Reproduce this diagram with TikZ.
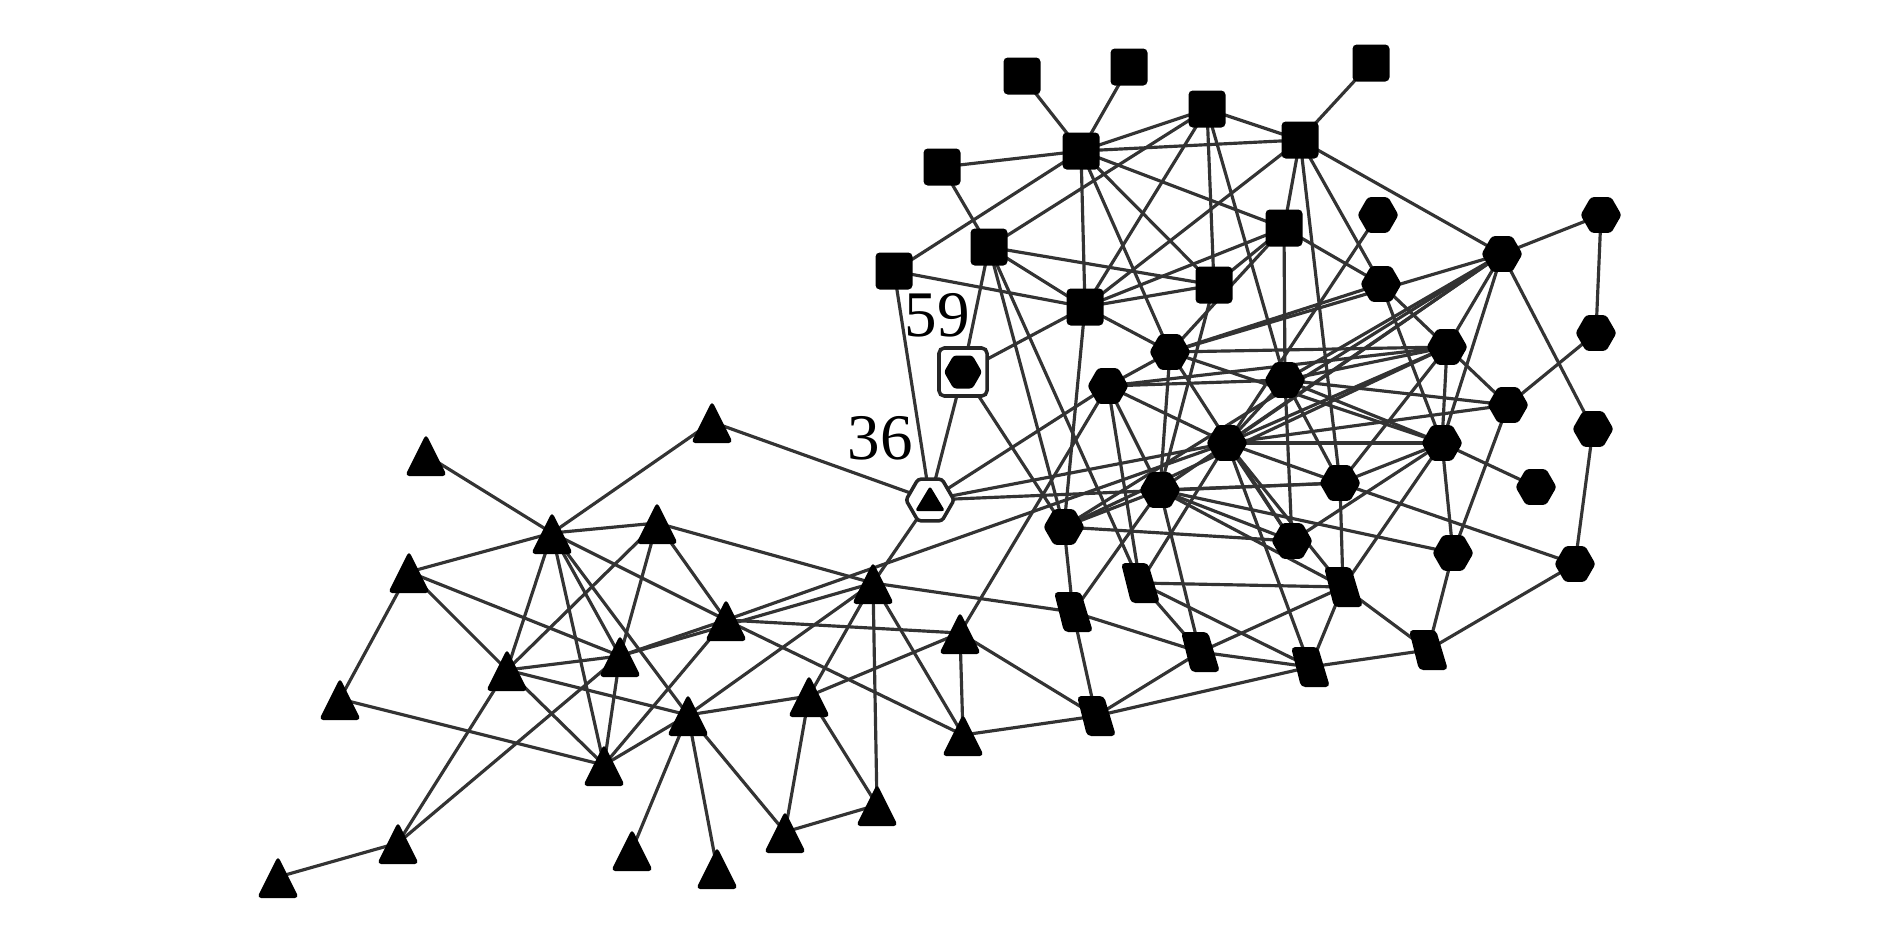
\documentclass[tikz,border=0pt]{standalone}
\usepackage{fontspec}
\setmainfont{Liberation Serif}
\tikzset{
  edge/.style={draw=black!80, line width=0.9pt},
  lbl/.style={font=\fontsize{18.5}{22}\selectfont, inner sep=0pt},
  sq/.pic={\fill[rounded corners=1.2pt] (-18.5,-18.5) rectangle (18.5,18.5);},
  hexa/.pic={\fill[rounded corners=0.8pt] (20.5,0)--(10.25,17.8)--(-10.25,17.8)--(-20.5,0)--(-10.25,-17.8)--(10.25,-17.8)--cycle;},
  tri/.pic={\fill[rounded corners=1.2pt] (0,-21)--(21,21)--(-21,21)--cycle;},
  para/.pic={\fill[rounded corners=1.2pt] (-19,-20)--(8,-20)--(20,20)--(-9,20)--cycle;},
  boxhex/.pic={\draw[fill=white, draw=black!85, line width=1pt, rounded corners=1.5pt] (-24,-24) rectangle (24,24);
     \fill[rounded corners=0.8pt] (19,0)--(9.5,16.5)--(-9.5,16.5)--(-19,0)--(-9.5,-16.5)--(9.5,-16.5)--cycle;},
  hextri/.pic={\draw[fill=white, draw=black!85, line width=1pt, rounded corners=0.8pt] (24,0)--(12,20.8)--(-12,20.8)--(-24,0)--(-12,-20.8)--(12,-20.8)--cycle;
     \fill[rounded corners=0.8pt] (0,-14)--(15,11)--(-15,11)--cycle;}
}
\begin{document}
\begin{tikzpicture}[x=0.01cm, y=-0.01cm]
\useasboundingbox (0,0) rectangle (1890,945);
% squares
\coordinate (S1) at (1022,76);
\coordinate (S2) at (1129,67);
\coordinate (S3) at (1371,63);
\coordinate (S4) at (1207,109);
\coordinate (S5) at (1081,151);
\coordinate (S6) at (1300,140);
\coordinate (S7) at (942,167);
\coordinate (S8) at (989,247);
\coordinate (S9) at (894,271);
\coordinate (S10) at (1284,228);
\coordinate (S11) at (1085,307);
\coordinate (S12) at (1214,285);
% hexagons
\coordinate (H1) at (1378,215);
\coordinate (H2) at (1502,254);
\coordinate (H3) at (1601,215);
\coordinate (H4) at (1381,284);
\coordinate (H5) at (1170,352);
\coordinate (H6) at (1447,347);
\coordinate (H7) at (1285,380);
\coordinate (H8) at (1108,386);
\coordinate (H9) at (1596,333);
\coordinate (H10) at (1508,405);
\coordinate (H11) at (1227,443);
\coordinate (H12) at (1442,443);
\coordinate (H13) at (1593,429);
\coordinate (H14) at (1160,490);
\coordinate (H15) at (1340,483);
\coordinate (H16) at (1536,487);
\coordinate (H17) at (1064,527);
\coordinate (H18) at (1292,541);
\coordinate (H19) at (1453,553);
\coordinate (H20) at (1575,564);
\coordinate (N59) at (963,372);
% parallelograms
\coordinate (P1) at (1073,612);
\coordinate (P2) at (1140,583);
\coordinate (P3) at (1343,587);
\coordinate (P4) at (1200,652);
\coordinate (P5) at (1310,667);
\coordinate (P6) at (1428,650);
\coordinate (P7) at (1096,716);
% triangles
\coordinate (T1) at (712,422);
\coordinate (T2) at (426,455);
\coordinate (T3) at (552,533);
\coordinate (T4) at (657,523);
\coordinate (T5) at (409,572);
\coordinate (T6) at (873,583);
\coordinate (T7) at (726,620);
\coordinate (T8) at (960,633);
\coordinate (T9) at (507,670);
\coordinate (T10) at (620,656);
\coordinate (T11) at (340,699);
\coordinate (T12) at (688,715);
\coordinate (T13) at (809,696);
\coordinate (T14) at (963,735);
\coordinate (T15) at (604,765);
\coordinate (T16) at (877,805);
\coordinate (T17) at (785,832);
\coordinate (T18) at (398,843);
\coordinate (T19) at (632,850);
\coordinate (T20) at (717,868);
\coordinate (T21) at (278,877);
\coordinate (N36) at (930,500);

% edges
\foreach \a/\b in {S1/S5, S2/S5, S3/S6, S7/S5, S7/S8, S9/S5, S9/S11, S9/N36, S4/S5, S4/S6, S5/S6,
  S8/S4, S5/S11, S5/S12, S5/S10, S5/H5, S4/S11, S4/S12, S4/H7, S6/S11, S6/S10, S6/H2, S6/H4, S6/H15,
  S8/S12, S8/S11, S8/N59, S8/H17, S8/P2, S10/S11, S10/S12, S10/H5, S10/H7, S10/H4, S11/S12, S11/N59,
  S11/H5, S11/H17, S12/H14,
  H1/H11, H2/H3, H2/H6, H2/H12, H2/H13, H2/H7, H2/H11, H2/H17, H2/H5, H2/H14, H3/H9, H9/H10, H13/H20,
  H4/H6, H4/H5, H4/H12, H5/H6, H5/H12, H5/H14, H5/H18, H5/H8,
  H6/H10, H6/H7, H6/H8, H6/H11, H6/H12, H6/H15, H6/H17,
  H7/H8, H7/H11, H7/H12, H7/H15, H7/H18, H7/H10,
  H8/N36, H8/T8, H8/H11, H8/H14, H8/P2, H10/H11, H10/H19,
  H11/N36, H11/H12, H11/H15, H11/P2, H11/P5, H11/P3, H11/H18, H11/T7,
  H12/H16, H12/H19, H12/P3, H12/H15, H12/H18,
  H14/H17, H14/H15, H14/H18, H14/P1, H14/P4, H14/P3, H14/H19,
  H15/N36, H15/H20, H15/P3, H17/N59, H17/P1, H17/H18, H19/P6, H20/P6,
  P1/T6, P1/P7, P1/P4, P2/P3, P2/P5, P2/P4, P3/P4, P3/P5, P3/P6, P4/P5, P4/P7, P5/P6, P5/P7, P7/T14, P7/T8,
  T1/T3, T1/N36, T2/T3, T3/T4, T3/T5, T3/T9, T3/T10, T3/T12, T3/T15, T3/T7,
  T4/T6, T4/T7, T4/T9, T4/T10, T5/T9, T5/T10, T5/T11,
  T9/T10, T9/T12, T9/T15, T9/T18, T10/T7, T10/T6, T10/T15, T10/T18, T11/T15, T18/T21,
  T15/T12, T15/T7, T12/T19, T12/T20, T12/T17, T12/T13, T12/T6,
  T13/T17, T13/T16, T13/T6, T13/T8, T16/T6, T16/T17, T14/T8, T14/T6, T14/T7, T8/T7,
  T6/N36, N59/N36}
  \draw[edge] (\a) -- (\b);

% shapes
\foreach \n in {S1,S2,S3,S4,S5,S6,S7,S8,S9,S10,S11,S12} \pic at (\n) {sq};
\foreach \n in {H1,H2,H3,H4,H5,H6,H7,H8,H9,H10,H11,H12,H13,H14,H15,H16,H17,H18,H19,H20} \pic at (\n) {hexa};
\foreach \n in {P1,P2,P3,P4,P5,P6,P7} \pic at (\n) {para};
\foreach \n in {T1,T2,T3,T4,T5,T6,T7,T8,T9,T10,T11,T12,T13,T14,T15,T16,T17,T18,T19,T20,T21} \pic at (\n) {tri};
\pic at (N59) {boxhex};
\pic at (N36) {hextri};

% labels
\node[lbl] (L59) at (937,315) {59};
\node[lbl] (L36) at (880,438) {36};
\end{tikzpicture}
\end{document}
